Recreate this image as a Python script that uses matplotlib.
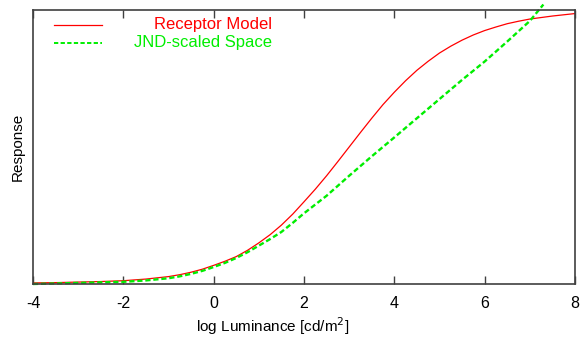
import matplotlib
matplotlib.use("Agg")
import matplotlib.pyplot as plt

plt.rcParams['font.family'] = ['Liberation Sans', 'DejaVu Sans']

# data
x_receptor = [-4.0, -3.5, -3.0, -2.5, -2.0, -1.5, -1.0, -0.75, -0.5, -0.25, 0.0,
              0.25, 0.5, 0.75, 1.0, 1.25, 1.5, 1.75, 2.0, 2.25, 2.5, 2.75, 3.0,
              3.25, 3.5, 3.75, 4.0, 4.25, 4.5, 4.75, 5.0, 5.25, 5.5, 5.75, 6.0,
              6.25, 6.5, 6.75, 7.0, 7.5, 8.0]
y_receptor = [0.004, 0.005, 0.007, 0.009, 0.012, 0.018, 0.027, 0.034, 0.043, 0.054,
              0.068, 0.083, 0.100, 0.123, 0.150, 0.180, 0.215, 0.255, 0.300, 0.346,
              0.395, 0.447, 0.500, 0.553, 0.605, 0.655, 0.700, 0.742, 0.780, 0.813,
              0.843, 0.868, 0.890, 0.909, 0.925, 0.938, 0.950, 0.959, 0.967, 0.978,
              0.987]

x_jnd = [-4.0, -3.5, -3.0, -2.5, -2.0, -1.5, -1.0, -0.75, -0.5, -0.25, 0.0, 0.25,
         0.5, 0.75, 1.0, 1.25, 1.5, 1.75, 2.0, 2.5, 3.0, 3.5, 4.0, 4.5, 5.0, 5.5,
         6.0, 6.5, 7.0, 7.3]
y_jnd = [0.000, 0.002, 0.004, 0.006, 0.008, 0.013, 0.021, 0.028, 0.037, 0.048,
         0.062, 0.077, 0.095, 0.116, 0.140, 0.164, 0.190, 0.223, 0.258, 0.322,
         0.395, 0.466, 0.535, 0.605, 0.675, 0.745, 0.812, 0.885, 0.960, 1.020]

x_ticks = [-4, -2, 0, 2, 4, 6, 8]
labels = ["Receptor Model", "JND-scaled Space"]

W, H = 582, 337
fig = plt.figure(figsize=(W / 100, H / 100), dpi=100)
ax = fig.add_axes([33 / W, 1 - 284 / H, (575 - 33) / W, (284 - 10) / H])

ax.plot(x_receptor, y_receptor, color='#ff0000', lw=0.9, solid_joinstyle='round')
ax.plot(x_jnd, y_jnd, color='#00ee00', lw=1.7, ls=(0, (2.2, 1.2)), clip_on=False)

ax.set_xlim(-4, 8)
ax.set_ylim(0, 1)
ax.set_xticks(x_ticks)
ax.set_xticklabels([str(t) for t in x_ticks], fontsize=11.5)
ax.set_yticks([])
ax.tick_params(axis='x', direction='in', length=6, width=1.0, color='#404040',
               top=True, pad=9)
for s in ax.spines.values():
    s.set_color('#404040')
    s.set_linewidth(1.2)

ax.set_xlabel("log Luminance [cd/m$^2$]", fontsize=11)
ax.xaxis.set_label_coords((273 - 33) / (575 - 33), -(326 - 284) / (284 - 10))
ax.xaxis.label.set_va('center')
ax.set_ylabel("Response", fontsize=11)
ax.yaxis.set_label_coords(-(33 - 18) / (575 - 33), 0.5)
ax.yaxis.label.set_va('center')

# gnuplot-style legend
def ax_xy(px, py):
    return ((px - 33) / (575 - 33), (284 - py) / (284 - 10))

for i, (lab, col, ls, lw) in enumerate([(labels[0], '#ff0000', '-', 0.9),
                                         (labels[1], '#00ee00', (0, (2.2, 1.2)), 1.4)]):
    py = 25 + 18 * i
    x0, y0 = ax_xy(54, py)
    x1, _ = ax_xy(102, py)
    ax.plot([x0, x1], [y0, y0], transform=ax.transAxes, color=col, ls=ls, lw=lw)
    xt, _ = ax_xy(272, py)
    ax.text(xt, y0, lab, transform=ax.transAxes, ha='right', va='center',
            color=col, fontsize=12)

fig.savefig("out.png", dpi=100)
